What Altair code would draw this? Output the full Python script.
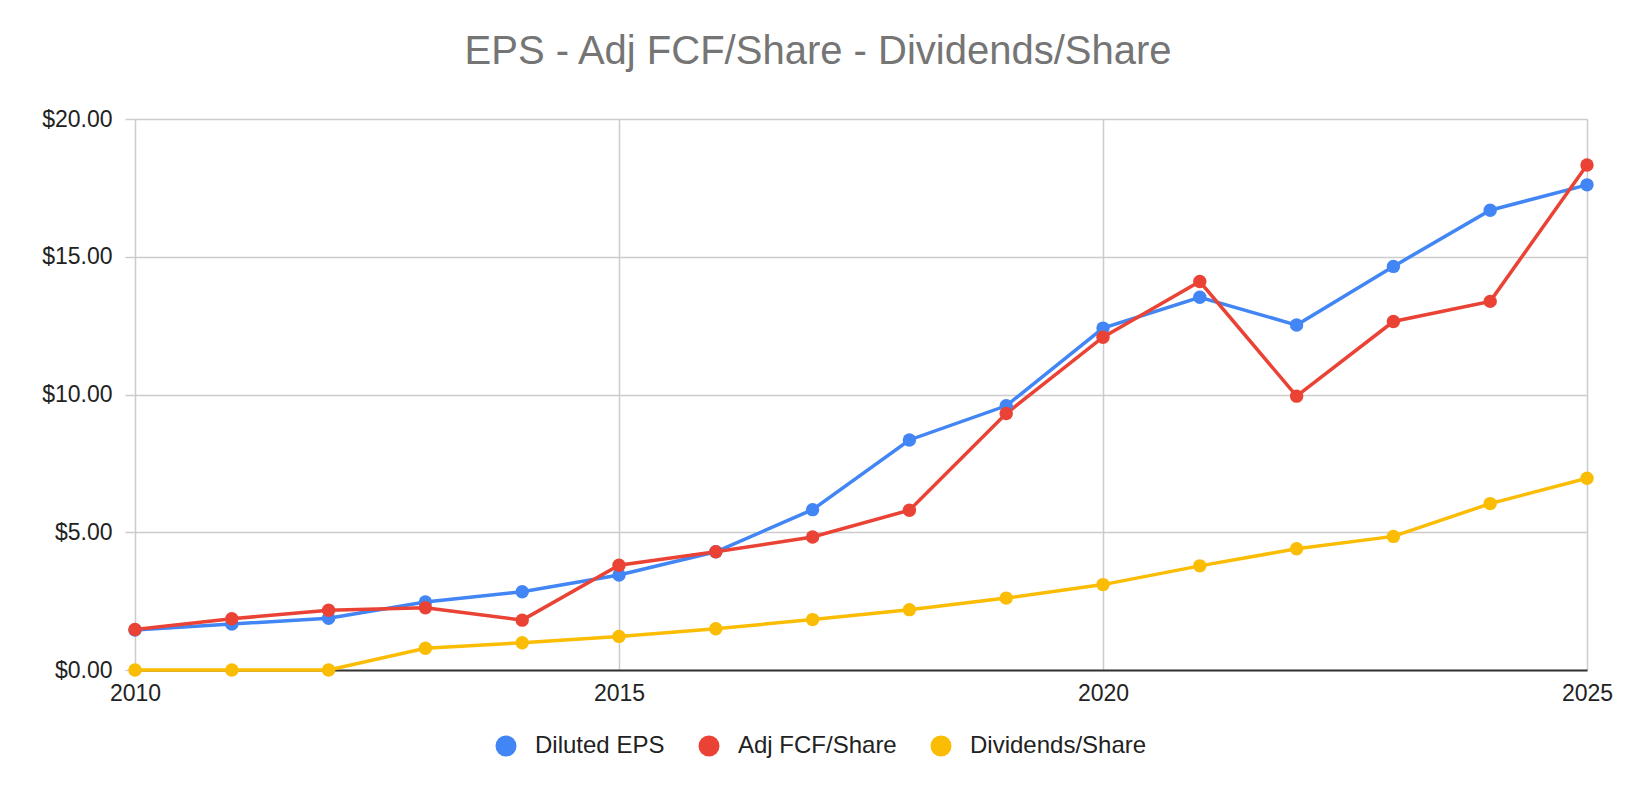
import altair as alt
import pandas as pd

years = list(range(2010, 2026))
eps = [1.45, 1.67, 1.88, 2.47, 2.84, 3.45, 4.29, 5.82, 8.35, 9.59, 12.41, 13.53, 12.52, 14.65, 16.69, 17.61]
fcf = [1.47, 1.86, 2.17, 2.26, 1.81, 3.80, 4.29, 4.83, 5.80, 9.31, 12.08, 14.10, 9.94, 12.65, 13.38, 18.33]
div = [0.0, 0.0, 0.0, 0.79, 0.99, 1.22, 1.50, 1.83, 2.19, 2.61, 3.10, 3.78, 4.40, 4.85, 6.04, 6.96]
series = ["Diluted EPS", "Adj FCF/Share", "Dividends/Share"]
colors = ["#4285F4", "#EA4335", "#FBBC04"]

rows = []
for name, vals in zip(series, [eps, fcf, div]):
    for y, v in zip(years, vals):
        rows.append({"Year": y, "Value": v, "Series": name})
df = pd.DataFrame(rows)

FONT = "Liberation Sans"

x = alt.X("Year:Q",
          scale=alt.Scale(domain=[2010, 2025], nice=False, zero=False),
          axis=alt.Axis(values=[2010, 2015, 2020, 2025], format="d", title=None,
                        grid=True, gridColor="#cccccc", gridWidth=1.5,
                        ticks=False, labelFlush=False, labelPadding=12,
                        labelFontSize=23, labelFont=FONT, labelColor="#222222",
                        domain=True, domainColor="#333333", domainWidth=2))
y = alt.Y("Value:Q",
          scale=alt.Scale(domain=[0, 20], nice=False),
          axis=alt.Axis(values=[0, 5, 10, 15, 20], format="$,.2f", title=None,
                        grid=True, gridColor="#cccccc", gridWidth=1.5,
                        ticks=True, tickSize=10, tickColor="#cccccc", tickWidth=1.5,
                        labelPadding=13, labelFontSize=23, labelFont=FONT,
                        labelColor="#222222", domain=False))

lines = alt.Chart(df).mark_line(strokeWidth=3.5).encode(
    x=x, y=y,
    stroke=alt.Stroke("Series:N", scale=alt.Scale(domain=series, range=colors), legend=None),
    detail="Series:N",
)

points = alt.Chart(df).mark_circle(size=180, opacity=1).encode(
    x=x, y=y,
    fill=alt.Fill("Series:N", scale=alt.Scale(domain=series, range=colors),
                  legend=alt.Legend(title=None, orient="none", direction="horizontal",
                                    legendX=359, legendY=615,
                                    symbolType="circle", symbolSize=441,
                                    symbolStrokeWidth=0, symbolOpacity=1,
                                    labelFontSize=24, labelFont=FONT, labelLimit=0,
                                    labelColor="#222222", labelOffset=17,
                                    columnPadding=32, padding=0)),
)

chart = alt.layer(lines, points).resolve_scale(fill="independent", stroke="independent").properties(
    width=1452, height=551,
    padding={"left": 127, "top": 111, "right": 40, "bottom": 120},
    autosize=alt.AutoSizeParams(type="none"),
    title=alt.TitleParams("EPS - Adj FCF/Share - Dividends/Share",
                          fontSize=40, font=FONT, color="#757575",
                          fontWeight="normal", anchor="middle", dx=-43,
                          baseline="alphabetic", offset=4),
).configure_view(stroke=None)

chart.save("out.html", embed_options={"renderer": "svg", "actions": False})
